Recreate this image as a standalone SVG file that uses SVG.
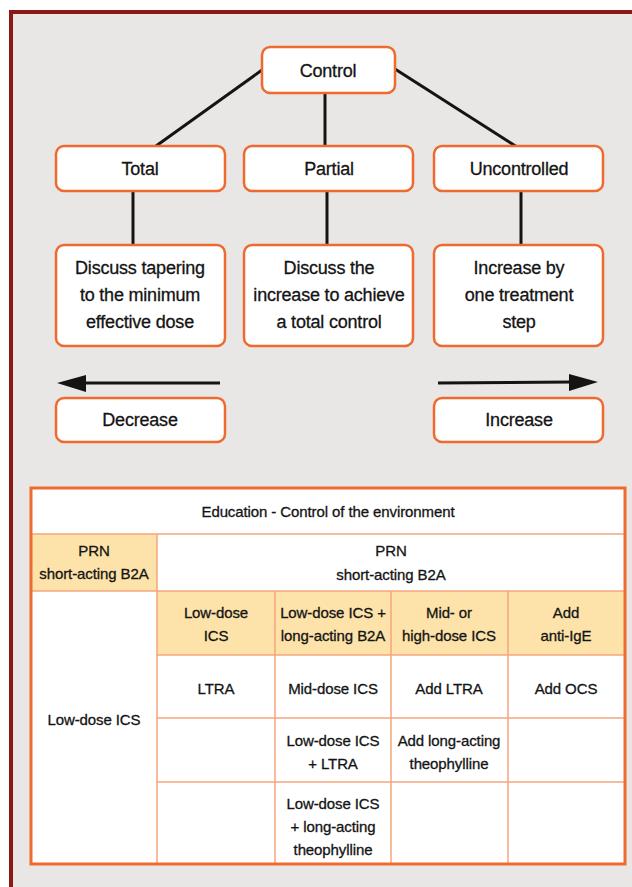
<svg xmlns="http://www.w3.org/2000/svg" width="632" height="887" viewBox="0 0 632 887">
<style>
text{font-family:"Liberation Sans",Arial,sans-serif;fill:#141414;text-anchor:middle;stroke:#141414;stroke-width:0.3}
.t18{font-size:18px;letter-spacing:-0.2px}
.t15{font-size:15px;letter-spacing:-0.1px}
.box{fill:#fff;stroke:#ef6a2e;stroke-width:2.5}
.con{stroke:#141414;stroke-width:3;fill:none}
.grid{stroke:#f5a47c;stroke-width:1.5;fill:none}
.hdr{fill:#fde3a9}
</style>
<rect x="0" y="0" width="632" height="887" fill="#fff"/>
<rect id="frame" x="11" y="12" width="650" height="900" fill="#e8e7e5" stroke="#8d1616" stroke-width="4"/>
<g id="connectors">
<line class="con" x1="262" y1="70" x2="156" y2="146"/>
<line class="con" x1="325" y1="93" x2="325" y2="146"/>
<line class="con" x1="395" y1="69" x2="517" y2="147"/>
<line class="con" x1="133" y1="191" x2="133" y2="245"/>
<line class="con" x1="327" y1="191" x2="327" y2="245"/>
<line class="con" x1="521" y1="191" x2="521" y2="245"/>
<line class="con" x1="220" y1="383" x2="82" y2="383"/>
<polygon points="57,383 86,375 86,392" fill="#141414"/>
<line class="con" x1="438" y1="383" x2="572" y2="382"/>
<polygon points="598,382 569,374 569,391" fill="#141414"/>
</g>
<g id="control"><rect class="box" x="262" y="47" width="133" height="46" rx="8"/><text class="t18" x="328" y="77">Control</text></g>
<g id="total"><rect class="box" x="56" y="146" width="169" height="45" rx="8"/><text class="t18" x="140" y="175">Total</text></g>
<g id="partial"><rect class="box" x="244" y="146" width="169" height="45" rx="8"/><text class="t18" x="329" y="175">Partial</text></g>
<g id="uncontrolled"><rect class="box" x="434" y="146" width="169" height="45" rx="8"/><text class="t18" x="519" y="175">Uncontrolled</text></g>
<g id="tapering"><rect class="box" x="56" y="245" width="169" height="101" rx="8"/>
<text class="t18" x="140" y="274">Discuss tapering</text><text class="t18" x="140" y="301">to the minimum</text><text class="t18" x="140" y="328">effective dose</text></g>
<g id="discuss"><rect class="box" x="244" y="245" width="169" height="101" rx="8"/>
<text class="t18" x="329" y="274">Discuss the</text><text class="t18" x="329" y="301">increase to achieve</text><text class="t18" x="329" y="328">a total control</text></g>
<g id="step"><rect class="box" x="434" y="245" width="169" height="101" rx="8"/>
<text class="t18" x="519" y="274">Increase by</text><text class="t18" x="519" y="301">one treatment</text><text class="t18" x="519" y="328">step</text></g>
<g id="decrease"><rect class="box" x="56" y="398" width="169" height="44" rx="8"/><text class="t18" x="140" y="426">Decrease</text></g>
<g id="increase"><rect class="box" x="434" y="398" width="169" height="44" rx="8"/><text class="t18" x="519" y="426">Increase</text></g>
<g id="table">
<rect x="31" y="488" width="594" height="376" fill="#fff"/>
<rect class="hdr" x="31" y="534" width="126" height="57"/>
<rect class="hdr" x="157" y="591" width="468" height="64"/>
<line class="grid" x1="31" y1="534" x2="625" y2="534"/>
<line class="grid" x1="31" y1="591" x2="625" y2="591"/>
<line class="grid" x1="157" y1="655" x2="625" y2="655"/>
<line class="grid" x1="157" y1="718" x2="625" y2="718"/>
<line class="grid" x1="157" y1="782" x2="625" y2="782"/>
<line class="grid" x1="157" y1="534" x2="157" y2="864"/>
<line class="grid" x1="275" y1="591" x2="275" y2="864"/>
<line class="grid" x1="391" y1="591" x2="391" y2="864"/>
<line class="grid" x1="508" y1="591" x2="508" y2="864"/>
<rect x="31" y="488" width="594" height="376" fill="none" stroke="#ef6a2e" stroke-width="3"/>
<text class="t15" x="328" y="517">Education - Control of the environment</text>
<text class="t15" x="94" y="556">PRN</text><text class="t15" x="94" y="579">short-acting B2A</text>
<text class="t15" x="391" y="556">PRN</text><text class="t15" x="391" y="580">short-acting B2A</text>
<text class="t15" x="216" y="618">Low-dose</text><text class="t15" x="216" y="641">ICS</text>
<text class="t15" x="333" y="618">Low-dose ICS +</text><text class="t15" x="333" y="641">long-acting B2A</text>
<text class="t15" x="449" y="618">Mid- or</text><text class="t15" x="449" y="641">high-dose ICS</text>
<text class="t15" x="566" y="618">Add</text><text class="t15" x="566" y="641">anti-IgE</text>
<text class="t15" x="216" y="694">LTRA</text>
<text class="t15" x="333" y="694">Mid-dose ICS</text>
<text class="t15" x="449" y="694">Add LTRA</text>
<text class="t15" x="566" y="694">Add OCS</text>
<text class="t15" x="94" y="725">Low-dose ICS</text>
<text class="t15" x="333" y="746">Low-dose ICS</text><text class="t15" x="333" y="769">+ LTRA</text>
<text class="t15" x="449" y="746">Add long-acting</text><text class="t15" x="449" y="769">theophylline</text>
<text class="t15" x="333" y="809">Low-dose ICS</text><text class="t15" x="333" y="832">+ long-acting</text><text class="t15" x="333" y="855">theophylline</text>
</g>
</svg>
